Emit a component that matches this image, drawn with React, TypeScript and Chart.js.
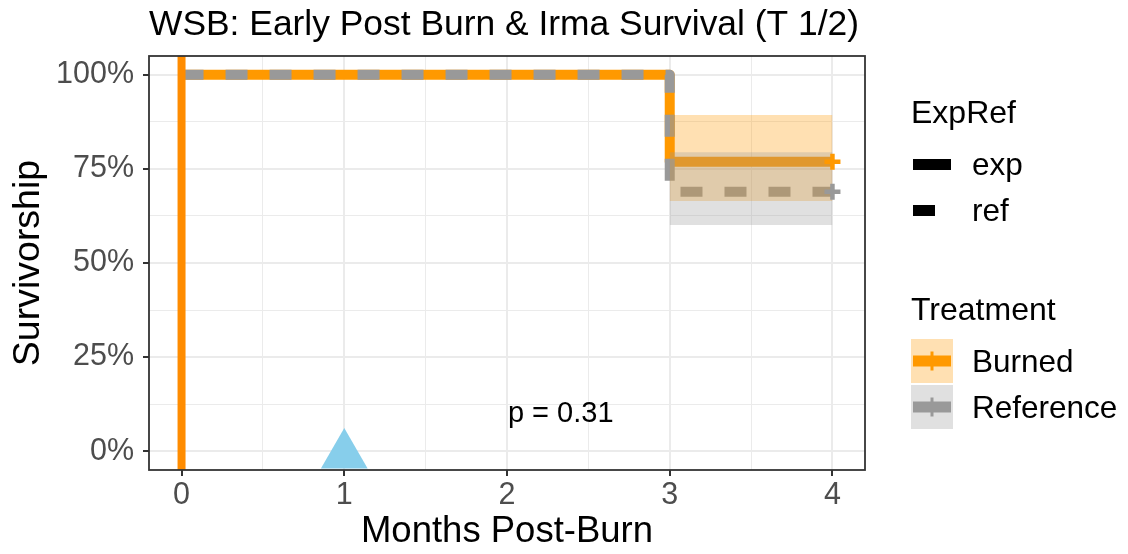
import React, { useEffect, useRef } from "react";
import { Chart, registerables } from "chart.js";

Chart.register(...registerables);

// ---------- data ----------
const TITLE = "WSB: Early Post Burn & Irma Survival (T 1/2)";
const X_TITLE = "Months Post-Burn";
const Y_TITLE = "Survivorship";

const TIMES = [0, 3, 4];
const BURNED_SURV = [100, 76.9, 76.9];
const REF_SURV = [100, 68.9, 68.9];

const CI_TIMES = [3, 4];
const BURNED_UPPER = [89.3, 89.3];
const BURNED_LOWER = [66.5, 66.5];
const REF_UPPER = [79.4, 79.4];
const REF_LOWER = [60.1, 60.1];

const CENSOR_TIMES = [4];
const BURNED_CENSOR = [76.9];
const REF_CENSOR = [68.9];

const BURN_X = [0, 0];
const BURN_Y = [-5, 105];

const EVENT_X = [1];
const EVENT_Y = [-1];

const X_TICKS = [0, 0.5, 1, 1.5, 2, 2.5, 3, 3.5, 4];
const Y_TICKS = [0, 12.5, 25, 37.5, 50, 62.5, 75, 87.5, 100];

const P_TEXT = "p = 0.31";
const P_X = 2.33;
const P_Y = 10;

const LEGEND1_TITLE = "ExpRef";
const LEGEND1_LABELS = ["exp", "ref"];
const LEGEND2_TITLE = "Treatment";
const LEGEND2_LABELS = ["Burned", "Reference"];

// ---------- styles ----------
const FONT = "'Liberation Sans', Arial, sans-serif";
const ORANGE = "#FF9900";
const GRAY = "#999999";
const ORANGE_FILL = "rgba(255,153,0,0.3)";
const GRAY_FILL = "rgba(153,153,153,0.3)";
const VLINE = "#FF8C00";
const SKY = "#87CEEB";

const pts = (xs: number[], ys: number[]) => xs.map((x, i) => ({ x, y: ys[i] }));

const decorPlugin = {
  id: "decor",
  afterDatasetsDraw(chart: any) {
    const { ctx, chartArea, scales } = chart;
    ctx.save();
    // p-value text
    ctx.fillStyle = "#000";
    ctx.font = `29px ${FONT}`;
    ctx.textAlign = "center";
    ctx.textBaseline = "middle";
    ctx.fillText(P_TEXT, scales.x.getPixelForValue(P_X), scales.y.getPixelForValue(P_Y));
    // panel border
    ctx.strokeStyle = "#333333";
    ctx.lineWidth = 1.8;
    ctx.strokeRect(chartArea.left, chartArea.top, chartArea.right - chartArea.left, chartArea.bottom - chartArea.top);
    ctx.restore();
  },
  afterDraw(chart: any) {
    const { ctx } = chart;
    ctx.save();
    // title
    ctx.fillStyle = "#000";
    ctx.textAlign = "left";
    ctx.textBaseline = "alphabetic";
    ctx.font = `35.4px ${FONT}`;
    ctx.fillText(TITLE, 149, 35);

    // legend 1
    ctx.font = `32px ${FONT}`;
    ctx.fillText(LEGEND1_TITLE, 911, 123);
    ctx.fillRect(913, 159, 38, 11);
    ctx.fillRect(913, 205, 22, 11);
    ctx.font = `31.5px ${FONT}`;
    ctx.fillText(LEGEND1_LABELS[0], 972, 175);
    ctx.fillText(LEGEND1_LABELS[1], 972, 221);

    // legend 2
    ctx.font = `32px ${FONT}`;
    ctx.fillText(LEGEND2_TITLE, 911, 320);
    const keys = [
      { top: 339, fill: ORANGE_FILL, col: ORANGE, label: LEGEND2_LABELS[0], base: 372 },
      { top: 385, fill: GRAY_FILL, col: GRAY, label: LEGEND2_LABELS[1], base: 418 },
    ];
    keys.forEach((k) => {
      ctx.fillStyle = k.fill;
      ctx.fillRect(911, k.top, 42, 44);
      ctx.fillStyle = k.col;
      const cy = k.top + 22;
      ctx.fillRect(913, cy - 5.5, 38, 11);
      ctx.fillRect(930.5, cy - 9.5, 3, 19);
      ctx.fillStyle = "#000";
      ctx.font = `31.5px ${FONT}`;
      ctx.fillText(k.label, 972, k.base);
    });
    ctx.restore();
  },
};

export default function App() {
  const ref = useRef<HTMLCanvasElement | null>(null);

  useEffect(() => {
    if (!ref.current) return;
    const chart = new Chart(ref.current, {
      type: "line",
      data: {
        datasets: [
          {
            label: "event",
            type: "scatter",
            data: pts(EVENT_X, EVENT_Y),
            pointStyle: "triangle",
            pointRadius: 27,
            backgroundColor: SKY,
            borderWidth: 0,
            order: 0,
            clip: false as any,
          } as any,
          {
            label: "burn",
            data: pts(BURN_X, BURN_Y),
            borderColor: VLINE,
            borderWidth: 8,
            pointRadius: 0,
            borderCapStyle: "butt",
            order: 1,
          },
          {
            label: "burned censor",
            type: "scatter",
            data: pts(CENSOR_TIMES, BURNED_CENSOR),
            pointStyle: "cross",
            pointRadius: 8,
            borderColor: ORANGE,
            borderWidth: 4.5,
            order: 2,
          } as any,
          {
            label: "ref censor",
            type: "scatter",
            data: pts(CENSOR_TIMES, REF_CENSOR),
            pointStyle: "cross",
            pointRadius: 8,
            borderColor: GRAY,
            borderWidth: 4.5,
            order: 2,
          } as any,
          {
            label: "ref upper",
            data: pts(CI_TIMES, REF_UPPER),
            borderWidth: 0,
            pointRadius: 0,
            backgroundColor: GRAY_FILL,
            fill: { target: 5 },
            order: 4,
          } as any,
          {
            label: "ref lower",
            data: pts(CI_TIMES, REF_LOWER),
            borderWidth: 0,
            pointRadius: 0,
            fill: false,
            order: 4,
          },
          {
            label: "burned upper",
            data: pts(CI_TIMES, BURNED_UPPER),
            borderWidth: 0,
            pointRadius: 0,
            backgroundColor: ORANGE_FILL,
            fill: { target: 7 },
            order: 5,
          } as any,
          {
            label: "burned lower",
            data: pts(CI_TIMES, BURNED_LOWER),
            borderWidth: 0,
            pointRadius: 0,
            fill: false,
            order: 5,
          },
          {
            label: "ref",
            data: pts(TIMES, REF_SURV),
            stepped: "before",
            borderColor: GRAY,
            borderWidth: 10,
            borderDash: [22, 22],
            borderCapStyle: "butt",
            borderJoinStyle: "round",
            pointRadius: 0,
            order: 9,
          } as any,
          {
            label: "burned",
            data: pts(TIMES, BURNED_SURV),
            stepped: "before",
            borderColor: ORANGE,
            borderWidth: 10,
            borderCapStyle: "butt",
            borderJoinStyle: "round",
            pointRadius: 0,
            order: 10,
          } as any,
        ],
      },
      options: {
        animation: false,
        responsive: true,
        maintainAspectRatio: false,
        events: [],
        layout: { padding: { top: 56, right: 263, left: 0, bottom: 0 } },
        plugins: {
          legend: { display: false },
          title: { display: false },
          tooltip: { enabled: false },
        },
        scales: {
          x: {
            type: "linear",
            min: -0.2,
            max: 4.2,
            afterFit: (s: any) => {
              s.height = 84;
            },
            afterBuildTicks: (s: any) => {
              s.ticks = X_TICKS.map((v) => ({ value: v }));
            },
            ticks: {
              autoSkip: false,
              maxRotation: 0,
              padding: 1,
              color: "#4D4D4D",
              font: { family: FONT, size: 30.5 },
              callback: (v: any) => (Number(v) % 1 === 0 ? String(v) : ""),
            },
            grid: {
              color: "#EBEBEB",
              lineWidth: (c: any) => (c.tick && c.tick.value % 1 === 0 ? 2 : 1),
              tickColor: (c: any) => (c.tick && c.tick.value % 1 === 0 ? "#333333" : "rgba(0,0,0,0)"),
              tickLength: 6,
              tickWidth: 2,
            },
            border: { display: false },
            title: {
              display: true,
              text: X_TITLE,
              color: "#000",
              font: { family: FONT, size: 36.5 },
              padding: { top: 0, bottom: 0 },
            },
          },
          y: {
            type: "linear",
            min: -5,
            max: 105,
            afterFit: (s: any) => {
              s.width = 149;
            },
            afterBuildTicks: (s: any) => {
              s.ticks = Y_TICKS.map((v) => ({ value: v }));
            },
            ticks: {
              autoSkip: false,
              padding: 9,
              color: "#4D4D4D",
              font: { family: FONT, size: 30.5 },
              callback: (v: any) => (Number(v) % 25 === 0 ? `${v}%` : ""),
            },
            grid: {
              color: "#EBEBEB",
              lineWidth: (c: any) => (c.tick && c.tick.value % 25 === 0 ? 2 : 1),
              tickColor: (c: any) => (c.tick && c.tick.value % 25 === 0 ? "#333333" : "rgba(0,0,0,0)"),
              tickLength: 6,
              tickWidth: 2,
            },
            border: { display: false },
            title: {
              display: true,
              text: Y_TITLE,
              color: "#000",
              font: { family: FONT, size: 37.5 },
              padding: { top: 6, bottom: 0 },
            },
          },
        },
      } as any,
      plugins: [decorPlugin],
    });
    return () => chart.destroy();
  }, []);

  return (
    <div style={{ position: "fixed", left: 0, top: 0, width: 1128, height: 554, background: "#fff" }}>
      <canvas ref={ref} />
    </div>
  );
}
